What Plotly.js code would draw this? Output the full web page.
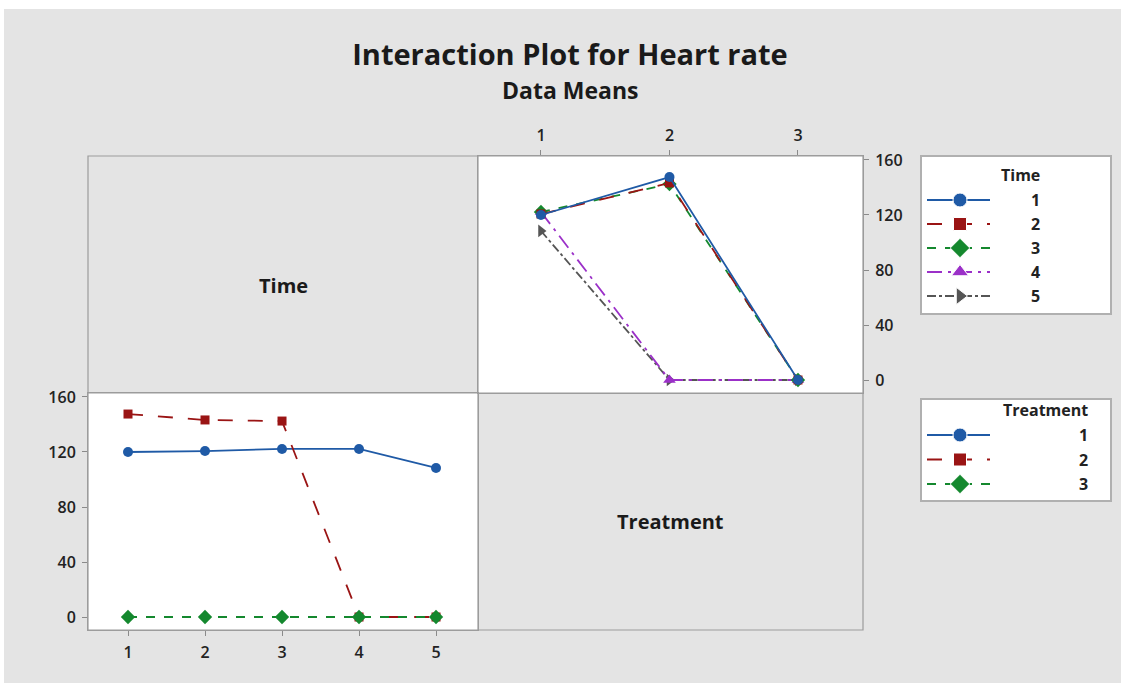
<!DOCTYPE html>
<html>
<head>
<meta charset="utf-8">
<script src="https://cdn.plot.ly/plotly-3.0.1.min.js"></script>
<style>
  html, body { margin: 0; padding: 0; background: #ffffff; }
  #chart { width: 1121px; height: 683px; }
</style>
</head>
<body>
<div id="chart"></div>
<script>
// ---------------- data ----------------
const timeLevels = [1, 2, 3, 4, 5];
const treatmentLevels = [1, 2, 3];
// mean heart rate for each Treatment across Time levels
const treatment1Means = [120.0, 120.7, 122.2, 122.2, 108.4];
const treatment2Means = [147.6, 143.3, 142.5, 0, 0];
const treatment3Means = [0, 0, 0, 0, 0];
const yTickVals = [0, 40, 80, 120, 160];
const timeLegendLabels = ['1', '2', '3', '4', '5'];
const treatmentLegendLabels = ['1', '2', '3'];

const titleText = 'Interaction Plot for Heart rate';
const subtitleText = 'Data Means';

// ---------------- styles ----------------
const styles = [
  { color: '#1f5aa6', dash: 'solid', symbol: 'circle', size: 10 },
  { color: '#9a1414', dash: 'longdash', symbol: 'square', size: 9 },
  { color: '#14882e', dash: 'dash', symbol: 'diamond', size: 11 },
  { color: '#9b30c8', dash: 'longdashdot', symbol: 'triangle-up', size: 11 },
  { color: '#555555', dash: 'dashdot', symbol: 'triangle-right', size: 11 }
];
const treatmentSeries = [treatment1Means, treatment2Means, treatment3Means];

const W = 1121, H = 683;
const px = v => v / W;
const py = v => 1 - v / H;
const FONT = 'Open Sans, DejaVu Sans, sans-serif';
const BORDER = '#9c9c9c';
const BG = '#e4e4e4';

const traces = [];

// bottom-left: Treatment lines across Time
treatmentSeries.forEach((vals, i) => {
  const s = styles[i];
  traces.push({
    x: timeLevels, y: vals, xaxis: 'x2', yaxis: 'y2', mode: 'lines+markers',
    line: { color: s.color, dash: s.dash, width: 1.8 },
    marker: { color: s.color, symbol: s.symbol, size: s.size, opacity: 1 },
    showlegend: false, hoverinfo: 'x+y'
  });
});

// top-right: Time lines across Treatment (same means, transposed)
const timeOrder = [4, 3, 2, 1, 0];
timeOrder.forEach(t => {
  const s = styles[t];
  const vals = treatmentSeries.map(series => series[t]);
  traces.push({
    x: treatmentLevels, y: vals, xaxis: 'x', yaxis: 'y', mode: 'lines+markers',
    line: { color: s.color, dash: s.dash, width: 1.8 },
    marker: { color: s.color, symbol: s.symbol, size: s.size, opacity: 1 },
    showlegend: false, hoverinfo: 'x+y'
  });
});

// custom legends drawn in small axes (pixel-like local units)
const annotations = [];
function buildLegend(labels, xa, ya, title, textX, firstRow, rowGap) {
  annotations.push({
    xref: xa, yref: ya, x: textX, y: firstRow - 25, text: '<b>' + title + '</b>',
    showarrow: false, xanchor: 'right', yanchor: 'middle',
    font: { family: FONT, size: 16, color: '#222' }
  });
  labels.forEach((lab, i) => {
    const s = styles[i];
    const row = firstRow + i * rowGap;
    traces.push({
      x: [5, 38, 68], y: [row, row, row], xaxis: xa, yaxis: ya,
      mode: 'lines+markers',
      line: { color: s.color, dash: s.dash, width: 1.8 },
      marker: { color: s.color, symbol: s.symbol, size: [0, s.size + 4, 0], opacity: 1 },
      showlegend: false, hoverinfo: 'skip'
    });
    annotations.push({
      xref: xa, yref: ya, x: textX, y: row, text: '<b>' + lab + '</b>',
      showarrow: false, xanchor: 'right', yanchor: 'middle',
      font: { family: FONT, size: 16, color: '#222' }
    });
  });
}
buildLegend(timeLegendLabels, 'x3', 'y3', 'Time', 120, 43, 24);
buildLegend(treatmentLegendLabels, 'x4', 'y4', 'Treatment', 168, 35, 24.5);

const tickFont = { family: FONT, size: 16, color: '#222222', weight: 600 };
const baseAxis = {
  showgrid: false, zeroline: false, showline: true, mirror: true,
  linecolor: BORDER, linewidth: 1, ticks: 'outside', ticklen: 5,
  tickcolor: '#8a8a8a', tickfont: tickFont, fixedrange: true, ticklabelstandoff: 3
};
const hiddenAxis = {
  showgrid: false, zeroline: false, showticklabels: false, ticks: '',
  showline: true, mirror: true, linecolor: '#b0b0b0', linewidth: 2, fixedrange: true
};

const layout = {
  width: W, height: H,
  margin: { l: 0, r: 0, t: 0, b: 0 },
  paper_bgcolor: BG,
  plot_bgcolor: '#ffffff',
  showlegend: false,
  title: {
    text: '<b>' + titleText + '</b>',
    x: px(570), y: py(55), xanchor: 'center', yanchor: 'middle',
    font: { family: FONT, size: 29, color: '#1a1a1a' }
  },
  xaxis: Object.assign({}, baseAxis, {
    domain: [px(478), px(863)], range: [0.51, 3.506], anchor: 'y', side: 'top',
    tickvals: treatmentLevels, ticktext: treatmentLevels.map(String)
  }),
  yaxis: Object.assign({}, baseAxis, {
    domain: [py(393), py(156)], range: [-9.45, 162.9], anchor: 'x', side: 'right',
    tickvals: yTickVals
  }),
  xaxis2: Object.assign({}, baseAxis, {
    domain: [px(88), px(478)], range: [0.4805, 5.545], anchor: 'y2',
    tickvals: timeLevels, ticktext: timeLevels.map(String)
  }),
  yaxis2: Object.assign({}, baseAxis, {
    domain: [py(630), py(393)], range: [-9.45, 162.9], anchor: 'x2',
    tickvals: yTickVals
  }),
  xaxis3: Object.assign({}, hiddenAxis, { domain: [px(922), px(1110)], range: [0, 188], anchor: 'y3' }),
  yaxis3: Object.assign({}, hiddenAxis, { domain: [py(313), py(157)], range: [156, 0], anchor: 'x3' }),
  xaxis4: Object.assign({}, hiddenAxis, { domain: [px(922), px(1110)], range: [0, 188], anchor: 'y4' }),
  yaxis4: Object.assign({}, hiddenAxis, { domain: [py(500), py(400)], range: [100, 0], anchor: 'x4' }),
  shapes: [
    // white outer border strips (top and left)
    { type: 'rect', xref: 'paper', yref: 'paper', x0: 0, x1: 1, y0: py(9), y1: 1,
      fillcolor: '#ffffff', line: { width: 0 }, layer: 'below' },
    { type: 'rect', xref: 'paper', yref: 'paper', x0: 0, x1: px(4), y0: 0, y1: 1,
      fillcolor: '#ffffff', line: { width: 0 }, layer: 'below' },
    // panel grid outline
    { type: 'rect', xref: 'paper', yref: 'paper', x0: px(88), x1: px(863), y0: py(630), y1: py(156),
      fillcolor: 'rgba(0,0,0,0)', line: { color: BORDER, width: 1.2 }, layer: 'above' },
    { type: 'line', xref: 'paper', yref: 'paper', x0: px(478), x1: px(478), y0: py(630), y1: py(156),
      line: { color: BORDER, width: 1.2 }, layer: 'above' },
    { type: 'line', xref: 'paper', yref: 'paper', x0: px(88), x1: px(863), y0: py(393), y1: py(393),
      line: { color: BORDER, width: 1.2 }, layer: 'above' }
  ],
  annotations: annotations.concat([
    { xref: 'paper', yref: 'paper', x: px(570), y: py(90), text: '<b>' + subtitleText + '</b>',
      showarrow: false, xanchor: 'center', yanchor: 'middle',
      font: { family: FONT, size: 23, color: '#1a1a1a' } },
    { xref: 'paper', yref: 'paper', x: px(283), y: py(286), text: '<b>Time</b>',
      showarrow: false, xanchor: 'center', yanchor: 'middle',
      font: { family: FONT, size: 20, color: '#1a1a1a' } },
    { xref: 'paper', yref: 'paper', x: px(670), y: py(521), text: '<b>Treatment</b>',
      showarrow: false, xanchor: 'center', yanchor: 'middle',
      font: { family: FONT, size: 20, color: '#1a1a1a' } }
  ])
};

Plotly.newPlot('chart', traces, layout, { displayModeBar: false, staticPlot: true });
</script>
</body>
</html>
